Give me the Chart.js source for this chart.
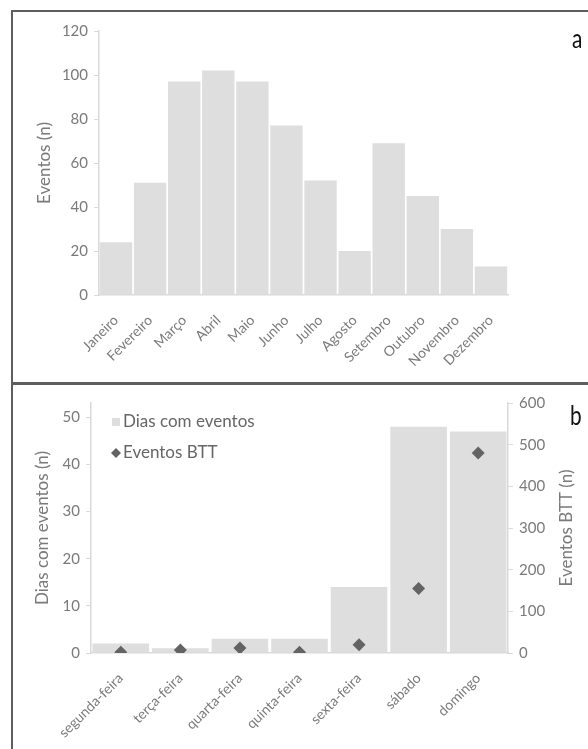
<!DOCTYPE html>
<html>
<head>
<meta charset="utf-8">
<script src="https://cdn.jsdelivr.net/npm/chart.js@4"></script>
<style>
  body { margin: 0; background: #fff; font-family: Lato, sans-serif; }
  #page { position: relative; width: 588px; height: 749px; overflow: hidden; }
  .panel { position: absolute; border: 2px solid #5e5e5e; box-sizing: border-box; }
  .tag { position: absolute; font-size: 26px; line-height: 1; color: #111; transform: scaleX(0.8); transform-origin: left top; }
  canvas { position: absolute; left: 0; }
</style>
</head>
<body>
<div id="page">
  <div class="panel" style="left:11px; top:10px; width:620px; height:375px;"></div>
  <div class="panel" style="left:11px; top:382px; width:620px; height:400px;"></div>
  <div style="position:absolute; left:0; top:0; width:588px; height:383px;"><canvas id="chartA"></canvas></div>
  <div style="position:absolute; left:0; top:383px; width:588px; height:366px;"><canvas id="chartB"></canvas></div>
  <div class="tag" style="left:572px; top:25px;">a</div>
  <div class="tag" style="left:570px; top:402px;">b</div>
</div>
<script>
const months = ['Janeiro', 'Fevereiro', 'Março', 'Abril', 'Maio', 'Junho',
  'Julho', 'Agosto', 'Setembro', 'Outubro', 'Novembro', 'Dezembro'];
const eventsPerMonth = [24, 51, 97, 102, 97, 77, 52, 20, 69, 45, 30, 13];

const weekdays = ['segunda-feira', 'terça-feira', 'quarta-feira', 'quinta-feira',
  'sexta-feira', 'sábado', 'domingo'];
const daysWithEvents = [2, 1, 3, 3, 14, 48, 47];
const bttEvents = [2, 7, 12, 2, 20, 155, 480];

const grey = '#7a7a7a';
const axisGrey = '#d9d9d9';
const barGrey = '#dedede';
const markGrey = '#636363';
const font = 'Lato';

Chart.defaults.font.family = font;
Chart.defaults.color = grey;
Chart.defaults.animation = false;

function fixWidth(w) { return (scale) => { scale.width = w; }; }
function fixHeight(h) { return (scale) => { scale.height = h; }; }

new Chart(document.getElementById('chartA'), {
  type: 'bar',
  data: {
    labels: months,
    datasets: [{
      label: 'Eventos',
      data: eventsPerMonth,
      backgroundColor: barGrey,
      categoryPercentage: 1,
      barPercentage: 0.95,
    }],
  },
  options: {
    responsive: true,
    maintainAspectRatio: false,
    layout: { padding: { left: 30, right: 80, top: 31, bottom: 0 } },
    plugins: { legend: { display: false }, tooltip: { enabled: false } },
    scales: {
      x: {
        afterFit: fixHeight(88),
        grid: { display: false },
        border: { color: axisGrey, width: 1.5 },
        ticks: { minRotation: 45, maxRotation: 45, font: { size: 14 }, padding: 9 },
      },
      y: {
        min: 0, max: 120,
        afterFit: fixWidth(69),
        grid: { drawOnChartArea: false, color: axisGrey, tickLength: 5 },
        border: { color: axisGrey, width: 1.5 },
        ticks: { stepSize: 20, font: { size: 15 }, padding: 6 },
        title: { display: true, text: 'Eventos (n)', font: { size: 17 } },
      },
    },
  },
});

// legend drawn inside the plot area, top-left, one item per row
const innerLegend = {
  id: 'innerLegend',
  afterDraw(chart) {
    const { ctx, chartArea } = chart;
    const x = chartArea.left + 21;
    ctx.save();
    ctx.font = '17px ' + font;
    ctx.textBaseline = 'middle';
    chart.data.datasets.forEach((ds, i) => {
      const y = chartArea.top + 19 + i * 31;
      ctx.fillStyle = ds.backgroundColor;
      if (ds.type === 'bar') {
        ctx.fillRect(x, y - 4, 8, 8);
      } else {
        ctx.beginPath();
        ctx.moveTo(x + 4, y - 5);
        ctx.lineTo(x + 9, y);
        ctx.lineTo(x + 4, y + 5);
        ctx.lineTo(x - 1, y);
        ctx.closePath();
        ctx.fill();
      }
      ctx.fillStyle = '#666';
      ctx.fillText(ds.label, x + 11, y);
    });
    ctx.restore();
  },
};

// right axis title reads bottom-to-top, like the left one
const rightTitle = {
  id: 'rightTitle',
  afterDraw(chart) {
    const { ctx, chartArea } = chart;
    const scale = chart.scales.y1;
    ctx.save();
    ctx.font = '17px ' + font;
    ctx.fillStyle = grey;
    ctx.textAlign = 'center';
    ctx.textBaseline = 'middle';
    ctx.translate(scale.right - 14, (chartArea.top + chartArea.bottom) / 2);
    ctx.rotate(-Math.PI / 2);
    ctx.fillText('Eventos BTT (n)', 0, 0);
    ctx.restore();
  },
};

new Chart(document.getElementById('chartB'), {
  data: {
    labels: weekdays,
    datasets: [{
      type: 'bar',
      label: 'Dias com eventos',
      data: daysWithEvents,
      yAxisID: 'y',
      backgroundColor: barGrey,
      categoryPercentage: 1,
      barPercentage: 0.95,
      order: 2,
    }, {
      type: 'line',
      label: 'Eventos BTT',
      data: bttEvents,
      yAxisID: 'y1',
      showLine: false,
      pointStyle: 'rectRot',
      pointRadius: 6.5,
      backgroundColor: markGrey,
      borderColor: markGrey,
      borderWidth: 0,
      order: 1,
    }],
  },
  options: {
    responsive: true,
    maintainAspectRatio: false,
    layout: { padding: { left: 28, right: 7, top: 20, bottom: 0 } },
    plugins: { legend: { display: false }, tooltip: { enabled: false } },
    scales: {
      x: {
        afterFit: fixHeight(96),
        grid: { display: false },
        border: { color: axisGrey, width: 1.5 },
        ticks: { minRotation: 45, maxRotation: 45, font: { size: 14 }, padding: 9 },
      },
      y: {
        position: 'left',
        min: 0, max: 53.06,
        afterFit: fixWidth(63),
        afterBuildTicks: (scale) => { scale.ticks = scale.ticks.filter(t => t.value % 10 === 0); },
        grid: { drawOnChartArea: false, color: axisGrey, tickLength: 5 },
        border: { color: axisGrey, width: 1.5 },
        ticks: { stepSize: 10, includeBounds: false, font: { size: 15 }, padding: 6 },
        title: { display: true, text: 'Dias com eventos (n)', font: { size: 17 } },
      },
      y1: {
        position: 'right',
        min: 0, max: 600,
        afterFit: fixWidth(73),
        grid: { drawOnChartArea: false, color: axisGrey, tickLength: 5 },
        border: { color: axisGrey, width: 1.5 },
        ticks: { stepSize: 100, font: { size: 15 }, padding: 6 },
        title: { display: false },
      },
    },
  },
  plugins: [innerLegend, rightTitle],
});
</script>
</body>
</html>
